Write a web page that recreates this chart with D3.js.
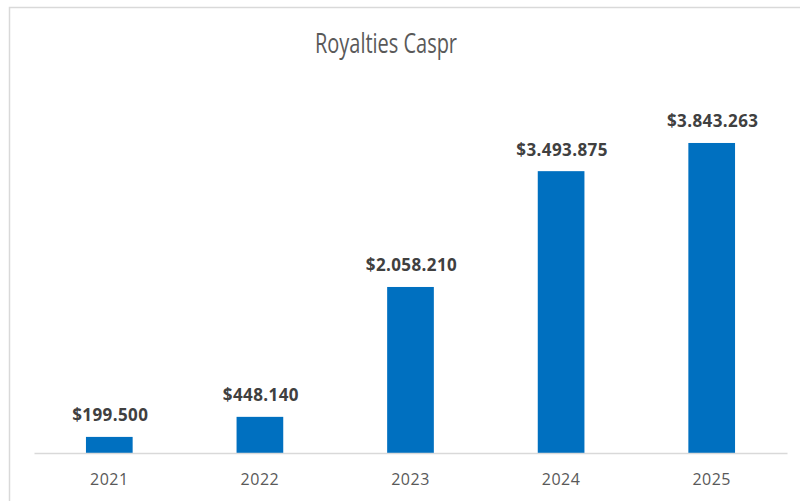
<!DOCTYPE html>
<html>
<head>
<meta charset="utf-8">
<script src="https://cdn.jsdelivr.net/npm/d3@7"></script>
<style>
  body { margin: 0; background: #fff; }
  svg { display: block; }
</style>
</head>
<body>
<div id="chart"></div>
<script>
// chart data
var years = ['2021', '2022', '2023', '2024', '2025'];
var royalties = [199500, 448140, 2058210, 3493875, 3843263];
var chartTitle = 'Royalties Caspr';

var width = 800,
    height = 501;
var margin = { top: 90, right: 13, bottom: 48, left: 34 };

var svg = d3.select('#chart')
  .append('svg')
  .attr('width', width)
  .attr('height', height);

// chart frame (runs off the right and bottom edge)
svg.append('rect')
  .attr('x', 9.5)
  .attr('y', 7.5)
  .attr('width', width + 20)
  .attr('height', height + 20)
  .attr('fill', '#fff')
  .attr('stroke', '#d9d9d9')
  .attr('stroke-width', 1.5);

var x = d3.scaleBand()
  .domain(years)
  .range([margin.left, width - margin.right])
  .paddingInner(0.69)
  .paddingOuter(0.345);

var y = d3.scaleLinear()
  .domain([0, 4500000])
  .range([height - margin.bottom, margin.top]);

// euro style thousands
var fmt = d3.formatLocale({ decimal: ',', thousands: '.', grouping: [3], currency: ['$', ''] }).format('$,.0f');

svg.append('text')
  .attr('x', 386)
  .attr('y', 53)
  .attr('text-anchor', 'middle')
  .attr('font-family', 'Open Sans, sans-serif')
  .attr('font-size', 28)
  .attr('fill', '#595959')
  .attr('textLength', 142)
  .attr('lengthAdjust', 'spacingAndGlyphs')
  .text(chartTitle);

svg.selectAll('rect.bar')
  .data(royalties)
  .enter()
  .append('rect')
  .attr('class', 'bar')
  .attr('x', function (d, i) { return x(years[i]); })
  .attr('y', function (d) { return y(d); })
  .attr('width', x.bandwidth())
  .attr('height', function (d) { return y(0) - y(d); })
  .attr('fill', '#0070c0');

svg.selectAll('text.val')
  .data(royalties)
  .enter()
  .append('text')
  .attr('class', 'val')
  .attr('x', function (d, i) { return x(years[i]) + x.bandwidth() / 2 + 1; })
  .attr('y', function (d) { return y(d) - 15.5; })
  .attr('text-anchor', 'middle')
  .attr('font-family', 'Open Sans, sans-serif')
  .attr('font-weight', 'bold')
  .attr('font-size', 17)
  .attr('letter-spacing', 0.4)
  .attr('fill', '#404040')
  .text(function (d) { return fmt(d); });

// x axis
var xAxis = svg.append('g')
  .attr('transform', 'translate(0,' + y(0) + ')')
  .call(d3.axisBottom(x).tickSize(0).tickPadding(21));

xAxis.select('.domain')
  .attr('stroke', '#d9d9d9')
  .attr('stroke-width', 1.5);

xAxis.selectAll('text')
  .attr('font-family', 'Open Sans, sans-serif')
  .attr('font-size', 16)
  .attr('letter-spacing', 0.5)
  .attr('fill', '#595959');
</script>
</body>
</html>
